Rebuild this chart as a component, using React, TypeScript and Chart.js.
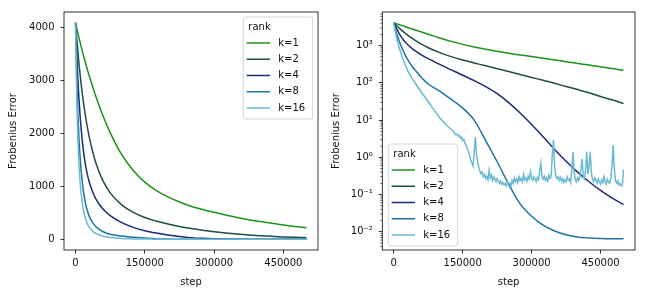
import React, { useEffect, useRef } from "react";
import { Chart, registerables } from "chart.js";

Chart.register(...registerables);

// ---------- data ----------
const seriesLabels = ["k=1", "k=2", "k=4", "k=8", "k=16"];
const seriesColors = ["#1b931b", "#1f4d48", "#1c2a79", "#1f74a6", "#6cb9d3"];

// steps (in thousands) for the smooth series
const stepsK = [0, 2.5, 5, 7.5, 10, 15, 20, 25, 30, 40, 50, 60, 75, 100, 125, 150, 175, 200, 225, 250, 275, 300, 325, 350, 375, 400, 425, 450, 475, 500];

const k1 = [4096, 4000, 3899, 3811, 3724, 3548, 3388, 3228, 3083, 2805, 2553, 2323, 2018, 1600, 1300, 1080, 920, 800, 705, 625, 562, 508, 458, 412, 370, 333, 300, 270, 242, 216];
const k2 = [4096, 3811, 3556, 3319, 3105, 2729, 2415, 2148, 1919, 1560, 1294, 1094, 877, 650, 507, 410, 343, 287, 240, 201, 168, 140, 117, 97, 80, 66, 54, 43, 35, 28];
const k4 = [4096, 3510, 3034, 2642, 2317, 1828, 1486, 1245, 1072, 832, 676, 565, 445, 313, 224, 160, 115, 79, 51, 29.5, 15.5, 7.6, 3.55, 1.62, 0.78, 0.4, 0.22, 0.129, 0.081, 0.054];
const k8 = [4096, 3070, 2380, 1890, 1530, 1047, 750, 556, 427, 275, 195, 141, 93, 60, 36, 21, 10, 2.8, 0.76, 0.19, 0.056, 0.026, 0.015, 0.0105, 0.0083, 0.0072, 0.0068, 0.0066, 0.0065, 0.0065];

// k=16 has its own, denser step grid (thousands)
const k16StepsK = [
  0, 2.5, 5, 7.5, 10, 15, 20, 25, 30, 40, 50, 60, 75, 100, 110, 120, 130,
  132.5, 135, 137.5, 140, 142.5, 145, 147.5, 150, 152.5, 155,
  157.5, 160, 162.5, 165, 167.5, 170, 172.5, 175, 177.5, 180,
  182.5, 185, 187.5, 190, 192.5, 195, 197.5, 200, 202.5, 205,
  207.5, 210, 212.5, 215, 217.5, 220, 222.5, 225, 227.5, 230,
  232.5, 235, 237.5, 240, 242.5, 245, 247.5, 250, 252.5, 255,
  257.5, 260, 262.5, 265, 267.5, 270, 272.5, 275, 277.5, 280,
  282.5, 285, 287.5, 290, 292.5, 295, 297.5, 300, 302.5, 305,
  307.5, 310, 312.5, 315, 317.5, 320, 322.5, 325, 327.5, 330,
  332.5, 335, 337.5, 340, 342.5, 345, 347.5, 350, 352.5, 355,
  357.5, 360, 362.5, 365, 367.5, 370, 372.5, 375, 377.5, 380,
  382.5, 385, 387.5, 390, 392.5, 395, 397.5, 400, 402.5, 405,
  407.5, 410, 412.5, 415, 417.5, 420, 422.5, 425, 427.5, 430,
  432.5, 435, 437.5, 440, 442.5, 445, 447.5, 450, 452.5, 455,
  457.5, 460, 462.5, 465, 467.5, 470, 472.5, 475, 477.5, 480,
  482.5, 485, 487.5, 490, 492.5, 495, 497.5, 500,
];
const k16 = [
  4096, 2700, 1900, 1400, 1050, 650, 430, 300, 215, 130, 85, 56, 31, 11.5, 8.3, 6.3, 5.0,
  4.3, 4.0, 4.2, 3.7, 3.9, 3.3, 3.5, 2.8, 3.0, 2.3,
  2.1, 1.7, 1.4, 1.1, 0.85, 0.7, 0.58, 1.3, 3.5, 1.2,
  0.75, 0.55, 0.42, 0.36, 0.4, 0.3, 0.34, 0.27, 0.31, 0.25,
  0.45, 0.28, 0.33, 0.24, 0.3, 0.26, 0.22, 0.27, 0.24, 0.2,
  0.23, 0.19, 0.21, 0.18, 0.2, 0.17, 0.22, 0.18, 0.2, 0.17,
  0.24, 0.2, 0.28, 0.22, 0.26, 0.21, 0.3, 0.24, 0.27, 0.22,
  0.35, 0.25, 0.28, 0.23, 0.31, 0.26, 0.4, 0.27, 0.24, 0.3,
  0.26, 0.22, 0.29, 0.25, 0.45, 0.7, 0.3, 0.26, 0.31, 0.24,
  0.28, 0.23, 0.33, 0.27, 0.3, 1.2, 2.9, 0.6, 0.32, 0.27,
  0.3, 0.24, 0.29, 0.23, 0.27, 0.21, 0.25, 0.22, 0.3, 0.24,
  0.26, 0.21, 0.5, 1.4, 0.4, 0.25, 0.22, 0.28, 0.24, 0.3,
  0.5, 0.9, 0.3, 0.26, 0.45, 1.4, 0.35, 0.6, 1.4, 0.4,
  0.26, 0.22, 0.28, 0.24, 0.2, 0.26, 0.22, 0.19, 0.25, 0.21,
  0.3, 0.23, 0.19, 0.26, 0.22, 0.2, 0.28, 0.6, 2.1, 0.5,
  0.24, 0.2, 0.23, 0.18, 0.2, 0.17, 0.18, 0.47,
];

const xTicks = [0, 150000, 300000, 450000];
const linearYTicks = [0, 1000, 2000, 3000, 4000];
const logYTicks = [0.01, 0.1, 1, 10, 100, 1000];
const logYLabels = ["10\u207B\u00B2", "10\u207B\u00B9", "10\u2070", "10\u00B9", "10\u00B2", "10\u00B3"];
const legendTitle = "rank";
const xTitle = "step";
const yTitle = "Frobenius Error";

// ---------- helpers ----------
const FONT = "'DejaVu Sans', 'Liberation Sans', sans-serif";
const TEXT = "#111111";

function buildDatasets() {
  const smooth = [k1, k2, k4, k8];
  const ds: any[] = smooth.map((vals, i) => ({
    label: seriesLabels[i],
    data: stepsK.map((s, j) => ({ x: s * 1000, y: vals[j] })),
    borderColor: seriesColors[i],
    borderWidth: 1.5,
    pointRadius: 0,
    fill: false,
    cubicInterpolationMode: "monotone",
    order: 5 - i,
  }));
  ds.push({
    label: seriesLabels[4],
    data: k16StepsK.map((s, j) => ({ x: s * 1000, y: k16[j] })),
    borderColor: seriesColors[4],
    borderWidth: 1.5,
    pointRadius: 0,
    fill: false,
    tension: 0,
    order: 1,
  });
  return ds;
}

const framePlugin = {
  id: "frame",
  afterDatasetsDraw(chart: any) {
    const { ctx, chartArea: a } = chart;
    ctx.save();
    ctx.strokeStyle = "#000";
    ctx.lineWidth = 0.8;
    ctx.strokeRect(a.left, a.top, a.right - a.left, a.bottom - a.top);
    ctx.restore();
  },
};

const minorTickPlugin = {
  id: "minorTicks",
  afterDraw(chart: any, _args: any, opts: any) {
    if (!opts || !opts.enabled) return;
    const { ctx, chartArea: a } = chart;
    const y = chart.scales.y;
    ctx.save();
    ctx.strokeStyle = "#000";
    ctx.lineWidth = 0.6;
    for (let e = -3; e <= 3; e++) {
      for (let m = 2; m <= 9; m++) {
        const v = m * Math.pow(10, e);
        const py = y.getPixelForValue(v);
        if (py < a.top || py > a.bottom) continue;
        ctx.beginPath();
        ctx.moveTo(a.left - 2, py);
        ctx.lineTo(a.left, py);
        ctx.stroke();
      }
    }
    ctx.restore();
  },
};

const legendPlugin = {
  id: "rankLegend",
  afterDraw(chart: any, _args: any, opts: any) {
    const { ctx, chartArea: a } = chart;
    const w = 69.4;
    const h = 102;
    const pad = 5;
    let bx: number, by: number;
    if (opts.corner === "bottomleft") {
      bx = a.left + 6;
      by = a.bottom - 4 - h;
    } else {
      bx = a.right - 5.3 - w;
      by = a.top + 5;
    }
    ctx.save();
    ctx.beginPath();
    const r = 2.5;
    ctx.moveTo(bx + r, by);
    ctx.lineTo(bx + w - r, by);
    ctx.arcTo(bx + w, by, bx + w, by + r, r);
    ctx.lineTo(bx + w, by + h - r);
    ctx.arcTo(bx + w, by + h, bx + w - r, by + h, r);
    ctx.lineTo(bx + r, by + h);
    ctx.arcTo(bx, by + h, bx, by + h - r, r);
    ctx.lineTo(bx, by + r);
    ctx.arcTo(bx, by, bx + r, by, r);
    ctx.closePath();
    ctx.fillStyle = "rgba(255,255,255,0.8)";
    ctx.fill();
    ctx.strokeStyle = "#cccccc";
    ctx.lineWidth = 0.8;
    ctx.stroke();

    ctx.font = `10px ${FONT}`;
    ctx.fillStyle = TEXT;
    ctx.textBaseline = "middle";
    ctx.textAlign = "left";
    ctx.fillText(legendTitle, bx + pad, by + 10);
    seriesLabels.forEach((lab, i) => {
      const yy = by + 26 + i * 16.25;
      ctx.strokeStyle = seriesColors[i];
      ctx.lineWidth = 1.5;
      ctx.beginPath();
      ctx.moveTo(bx + 3.4, yy);
      ctx.lineTo(bx + 26.7, yy);
      ctx.stroke();
      ctx.fillStyle = TEXT;
      ctx.fillText(lab, bx + 35, yy);
    });
    ctx.restore();
  },
};

function makeConfig(isLog: boolean): any {
  const yScale: any = isLog
    ? {
        type: "logarithmic",
        min: Math.pow(10, -2.49),
        max: Math.pow(10, 3.903),
        afterBuildTicks: (s: any) => {
          s.ticks = logYTicks.map((v) => ({ value: v }));
        },
        ticks: {
          callback: (v: any) => {
            const i = logYTicks.findIndex((t) => Math.abs(t - v) / t < 1e-6);
            return i >= 0 ? logYLabels[i] : "";
          },
          padding: 6,
          color: TEXT,
          font: { family: FONT, size: 10 },
          autoSkip: false,
        },
        afterFit: (s: any) => {
          s.width = 52.3;
        },
      }
    : {
        type: "linear",
        min: -204.8,
        max: 4300.8,
        afterBuildTicks: (s: any) => {
          s.ticks = linearYTicks.map((v) => ({ value: v }));
        },
        ticks: {
          callback: (v: any) => String(v),
          padding: 6,
          color: TEXT,
          font: { family: FONT, size: 10 },
          autoSkip: false,
        },
        afterFit: (s: any) => {
          s.width = 64;
        },
      };
  yScale.grid = {
    display: true,
    drawOnChartArea: false,
    drawTicks: true,
    tickLength: 3.5,
    tickWidth: 0.8,
    tickColor: "#000",
  };
  yScale.border = { display: false };
  yScale.title = {
    display: true,
    text: yTitle,
    color: TEXT,
    font: { family: FONT, size: 10 },
    padding: { top: isLog ? 0 : 7, bottom: 0 },
  };

  return {
    type: "line",
    data: { datasets: buildDatasets() },
    options: {
      responsive: false,
      animation: false,
      devicePixelRatio: 1,
      layout: { padding: { left: 0, right: 12, top: 10, bottom: 0 } },
      plugins: {
        legend: { display: false },
        tooltip: { enabled: false },
        rankLegend: { corner: isLog ? "bottomleft" : "topright" },
        minorTicks: { enabled: isLog },
      },
      scales: {
        x: {
          type: "linear",
          min: -25000,
          max: 525000,
          afterBuildTicks: (s: any) => {
            s.ticks = xTicks.map((v) => ({ value: v }));
          },
          ticks: {
            callback: (v: any) => String(v),
            padding: 3.5,
            maxRotation: 0,
            autoSkip: false,
            color: TEXT,
            font: { family: FONT, size: 10 },
          },
          grid: {
            display: true,
            drawOnChartArea: false,
            drawTicks: true,
            tickLength: 3.5,
            tickWidth: 0.8,
            tickColor: "#000",
          },
          border: { display: false },
          title: {
            display: true,
            text: xTitle,
            color: TEXT,
            font: { family: FONT, size: 10 },
            padding: { top: 0, bottom: 9.3 },
          },
          afterFit: (s: any) => {
            s.height = 48;
          },
        },
        y: yScale,
      },
    },
    plugins: [framePlugin, minorTickPlugin, legendPlugin],
  };
}

export default function App() {
  const leftRef = useRef<HTMLCanvasElement | null>(null);
  const rightRef = useRef<HTMLCanvasElement | null>(null);

  useEffect(() => {
    Chart.defaults.font.family = FONT;
    Chart.defaults.font.size = 10;
    Chart.defaults.color = TEXT;
    const c1 = new Chart(leftRef.current as HTMLCanvasElement, makeConfig(false));
    const c2 = new Chart(rightRef.current as HTMLCanvasElement, makeConfig(true));
    return () => {
      c1.destroy();
      c2.destroy();
    };
  }, []);

  return (
    <div
      style={{
        position: "absolute",
        left: 0,
        top: 0,
        width: 647,
        height: 298,
        background: "#ffffff",
        overflow: "hidden",
      }}
    >
      <canvas
        ref={leftRef}
        width={330}
        height={298}
        style={{ position: "absolute", left: 0, top: 0, width: 330, height: 298 }}
      />
      <canvas
        ref={rightRef}
        width={317}
        height={298}
        style={{ position: "absolute", left: 330, top: 0, width: 317, height: 298 }}
      />
    </div>
  );
}
